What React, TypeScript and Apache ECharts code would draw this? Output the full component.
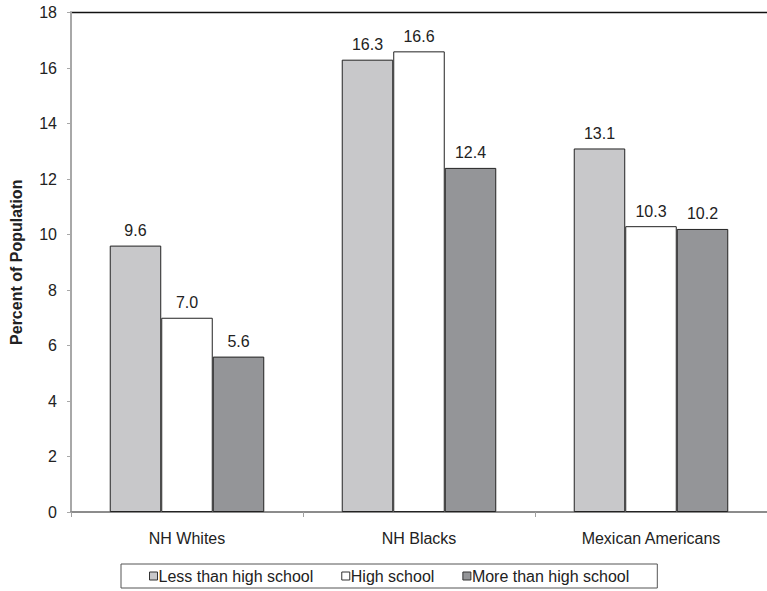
import React, { useEffect, useRef } from "react";
import * as echarts from "echarts";

const categories = ["NH Whites", "NH Blacks", "Mexican Americans"];
const seriesNames = ["Less than high school", "High school", "More than high school"];
const lessThanHS = [9.6, 16.3, 13.1];
const highSchool = [7.0, 16.6, 10.3];
const moreThanHS = [5.6, 12.4, 10.2];
const colors = ["#c8c8ca", "#ffffff", "#949598"];

export default function App() {
  const ref = useRef<HTMLDivElement>(null);
  useEffect(() => {
    if (!ref.current) return;
    const chart = echarts.init(ref.current, undefined, { renderer: "svg" });
    const font = "Arial, 'Liberation Sans', sans-serif";
    const data = [lessThanHS, highSchool, moreThanHS];
    chart.setOption({
      animation: false,
      backgroundColor: "#ffffff",
      textStyle: { fontFamily: font },
      grid: { left: 70, right: -10, top: 12.5, bottom: 79 },
      legend: {
        left: 121,
        top: 564,
        itemWidth: 8,
        itemHeight: 8,
        itemGap: 28,
        padding: [4, 28, 4, 28],
        borderColor: "#555",
        borderWidth: 1,
        borderRadius: 0,
        icon: "rect",
        textStyle: { fontFamily: font, fontSize: 16, color: "#222", padding: [0, 0, 0, -4] },
        itemStyle: { borderColor: "#333", borderWidth: 1 },
        data: seriesNames,
      },
      xAxis: {
        type: "category",
        data: categories,
        axisLine: { lineStyle: { color: "#8c8c8c", width: 2 } },
        axisTick: { show: true, length: 5, lineStyle: { color: "#a0a0a0" } },
        axisLabel: { fontSize: 16, color: "#222", margin: 18, fontFamily: font },
      },
      yAxis: {
        type: "value",
        min: 0,
        max: 18,
        interval: 2,
        name: "Percent of Population",
        nameLocation: "middle",
        nameGap: 47,
        nameTextStyle: { fontSize: 16, fontWeight: "bold", color: "#222", fontFamily: font },
        axisLine: { show: true, lineStyle: { color: "#a8a8a8", width: 2 } },
        axisTick: { show: true, length: 4, lineStyle: { color: "#a8a8a8" } },
        splitLine: { show: false },
        axisLabel: { fontSize: 16, color: "#222", margin: 14, fontFamily: font },
      },
      graphic: [
        { type: "line", shape: { x1: 70, y1: 12.5, x2: 767, y2: 12.5 }, style: { stroke: "#111", lineWidth: 1.5 } },
      ],
      series: seriesNames.map((name, i) => ({
        name,
        type: "bar",
        data: data[i],
        barGap: "0%",
        barCategoryGap: "33.4%",
        itemStyle: { color: colors[i], borderColor: "#222", borderWidth: 1 },
        label: {
          show: true,
          position: "top",
          distance: 7,
          fontSize: 16,
          color: "#222",
          fontFamily: font,
          formatter: (p: any) => Number(p.value).toFixed(1),
        },
      })),
    });
    return () => chart.dispose();
  }, []);
  return <div ref={ref} style={{ width: 767, height: 591, position: "absolute", left: 0, top: 0 }} />;
}
